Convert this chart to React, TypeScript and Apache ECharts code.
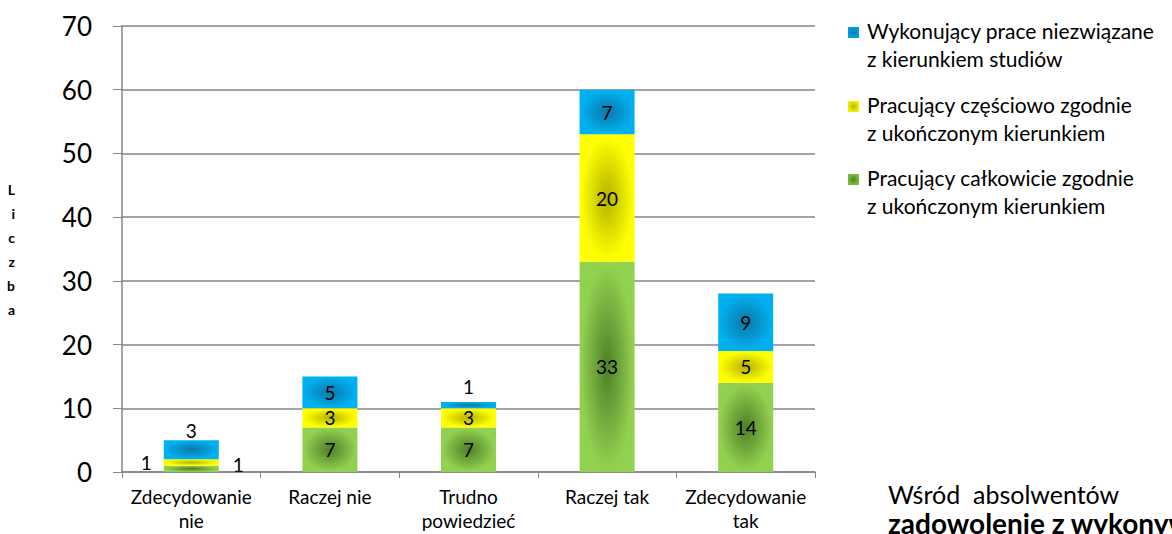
import React, { useEffect, useRef } from "react";
import * as echarts from "echarts";

const categories = ["Zdecydowanie\nnie", "Raczej nie", "Trudno\npowiedzieć", "Raczej tak", "Zdecydowanie\ntak"];
const seriesNames = [
  "Pracujący całkowicie zgodnie\nz ukończonym kierunkiem",
  "Pracujący częściowo zgodnie\nz ukończonym kierunkiem",
  "Wykonujący prace niezwiązane\nz kierunkiem studiów",
];
const fullyMatching = [1, 7, 7, 33, 14];
const partlyMatching = [1, 3, 3, 20, 5];
const notMatching = [3, 5, 1, 7, 9];
const yTicks = [0, 10, 20, 30, 40, 50, 60, 70];

const FONT = "Lato, 'Open Sans', sans-serif";

const grad = (dark: string, light: string) => ({
  type: "radial",
  x: 0.5,
  y: 0.5,
  r: 0.6,
  colorStops: [
    { offset: 0, color: dark },
    { offset: 0.8, color: light },
    { offset: 1, color: light },
  ],
});

const colors = [
  grad("#4e7f27", "#92D050"),
  grad("#b3b300", "#FFFF00"),
  grad("#0a78a8", "#00B0F0"),
];
const iconColors = [
  grad("#4e7f27", "#7cbc3c"),
  grad("#b3b300", "#f0f000"),
  grad("#0a78a8", "#00a0e0"),
];

export default function App() {
  const ref = useRef<HTMLDivElement>(null);
  useEffect(() => {
    if (!ref.current) return;
    const chart = echarts.init(ref.current, null, { renderer: "svg" });
    const labelBase = { show: true, color: "#000", fontSize: 19, fontFamily: FONT };

    const seriesData = [fullyMatching, partlyMatching, notMatching];
    const specialLabels: Record<string, any> = {
      "0-0": { position: "left", distance: 12, offset: [0, -6] },
      "1-0": { position: "right", distance: 14, offset: [0, 2] },
      "2-0": { position: "top", distance: 0 },
      "2-2": { position: "top", distance: 6 },
    };

    const series = seriesData.map((vals, si) => ({
      type: "bar",
      name: seriesNames[si],
      stack: "total",
      barWidth: 55,
      itemStyle: { color: colors[si] },
      label: { ...labelBase, position: "inside" },
      data: vals.map((v, ci) => {
        const sp = specialLabels[`${si}-${ci}`];
        return sp ? { value: v, label: { ...labelBase, ...sp } } : v;
      }),
    }));

    const legendTop = [16, 90, 163];
    const legendOrder = [2, 1, 0];
    const graphic: any[] = [];
    legendOrder.forEach((si, i) => {
      graphic.push({
        type: "rect",
        left: 848,
        top: legendTop[i] + 11,
        shape: { width: 11, height: 11 },
        style: { fill: iconColors[si] },
      });
      graphic.push({
        type: "text",
        left: 867,
        top: legendTop[i],
        style: {
          text: seriesNames[si],
          font: `21px ${FONT}`,
          fill: "#000",
          lineHeight: 28,
        },
      });
    });
    graphic.push({
      type: "text",
      left: 888,
      top: 481,
      style: { text: "Wśród  absolwentów", font: `25px ${FONT}`, fill: "#000" },
    });
    graphic.push({
      type: "text",
      left: 888,
      top: 509,
      style: { text: "zadowolenie z wykonywanej pracy", font: `bold 28px ${FONT}`, fill: "#000" },
    });

    chart.setOption({
      animation: false,
      textStyle: { fontFamily: FONT },
      grid: { left: 122, right: 357, top: 26, bottom: 62 },
      xAxis: {
        type: "category",
        data: categories,
        axisLine: { lineStyle: { color: "#868686", width: 1.5 } },
        axisTick: { show: true, length: 6, lineStyle: { color: "#868686" } },
        axisLabel: { interval: 0, color: "#000", fontSize: 19, lineHeight: 24, margin: 12, fontFamily: FONT },
      },
      yAxis: {
        type: "value",
        min: yTicks[0],
        max: yTicks[yTicks.length - 1],
        interval: 10,
        name: "L\ni\nc\nz\nb\na",
        nameLocation: "middle",
        nameRotate: 0,
        nameGap: 107,
        nameTextStyle: { fontSize: 14, fontWeight: "bold", lineHeight: 24, color: "#000", fontFamily: FONT },
        axisLine: { show: true, lineStyle: { color: "#868686", width: 1.5 } },
        axisTick: { show: true, length: 9, lineStyle: { color: "#868686" } },
        axisLabel: { color: "#000", fontSize: 26, margin: 30, fontFamily: FONT },
        splitLine: { lineStyle: { color: "#868686", width: 1.5 } },
      },
      series,
      graphic,
    });
    return () => chart.dispose();
  }, []);
  return <div ref={ref} style={{ width: 1172, height: 534, position: "absolute", left: 0, top: 0 }} />;
}
